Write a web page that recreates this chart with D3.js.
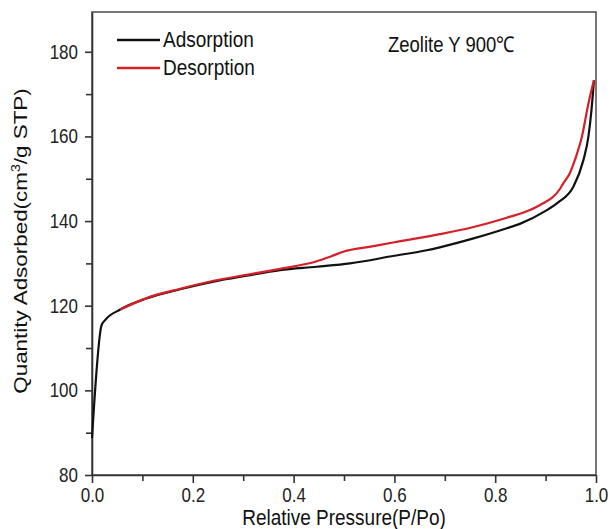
<!DOCTYPE html>
<html>
<head>
<meta charset="utf-8">
<script src="https://cdn.jsdelivr.net/npm/d3@7"></script>
<style>
  body { margin: 0; background: #fff; }
  svg { display: block; font-family: "Liberation Sans", Arial, sans-serif; }
  .axis path, .axis line { stroke: #333; stroke-width: 1.6; }
  .axis text { fill: #222; font-size: 17px; }
</style>
</head>
<body>
<svg id="chart" width="610" height="529"></svg>
<script>
// isotherm, P/Po vs cm3/g STP
const adsP = [0, 0.019, 0.026, 0.056, 0.108, 0.175, 0.241, 0.307, 0.373, 0.446, 0.512, 0.6, 0.664, 0.69, 0.757, 0.823, 0.85, 0.9, 0.925, 0.955, 0.975, 0.985, 0.991, 0.996];
const adsQ = [88.7, 115.4, 116.6, 119.1, 121.7, 123.9, 125.7, 127.1, 128.4, 129.2, 130.0, 131.8, 133.1, 133.8, 135.9, 138.3, 139.4, 142.4, 144.4, 148.1, 154.4, 160.0, 166.2, 173.3];
const desP = [0.056, 0.108, 0.175, 0.241, 0.307, 0.373, 0.446, 0.475, 0.5, 0.55, 0.6, 0.69, 0.757, 0.823, 0.869, 0.889, 0.929, 0.935, 0.948, 0.958, 0.972, 0.985, 0.996];
const desQ = [119.1, 121.8, 124.0, 125.9, 127.3, 128.7, 130.5, 131.7, 132.8, 133.9, 135.0, 136.9, 138.6, 140.8, 142.6, 143.8, 147.7, 148.9, 151.3, 154.4, 159.9, 167.8, 173.3];

const xTicks = [0, 0.2, 0.4, 0.6, 0.8, 1.0];
const xMinor = [0.1, 0.3, 0.5, 0.7, 0.9];
const yTicks = [80, 100, 120, 140, 160, 180];
const yMinor = [90, 110, 130, 150, 170];

const seriesNames = ['Adsorption', 'Desorption'];
const seriesColors = ['#111', '#d42026'];
const title = 'Zeolite Y 900\u2103';

// the source picture is a little stretched upright, so glyphs are taller than wide
const tall = 1.18;

const svg = d3.select('#chart');

const x = d3.scaleLinear().domain([0, 1]).range([92, 596]);
const y = d3.scaleLinear().domain([80, 189.4]).range([475, 12]);

function stretch(sel) {
	sel.attr('transform', function() {
		let tx = +this.getAttribute('x') || 0, ty = +this.getAttribute('y') || 0;
		return `translate(${tx},${ty}) scale(1,${tall}) translate(${-tx},${-ty})`;
	});
}

// frame
svg.append('rect')
	.attr('x', x(0)).attr('y', y.range()[1])
	.attr('width', x(1) - x(0)).attr('height', y.range()[0] - y.range()[1])
	.attr('fill', 'none').attr('stroke', '#555').attr('stroke-width', 1.6);

// minor ticks first, no labels
svg.append('g').attr('class', 'axis')
	.attr('transform', `translate(0,${y(80)})`)
	.call(d3.axisBottom(x).tickValues(xMinor).tickSize(6).tickFormat(''))
	.select('.domain').remove();
svg.append('g').attr('class', 'axis')
	.attr('transform', `translate(${x(0)},0)`)
	.call(d3.axisLeft(y).tickValues(yMinor).tickSize(6).tickFormat(''))
	.select('.domain').remove();

svg.append('g').attr('class', 'axis')
	.attr('transform', `translate(0,${y(80)})`)
	.call(d3.axisBottom(x).tickValues(xTicks).tickSize(8).tickSizeOuter(0).tickPadding(5).tickFormat(d3.format('.1f')))
	.selectAll('text').call(stretch);
svg.append('g').attr('class', 'axis')
	.attr('transform', `translate(${x(0)},0)`)
	.call(d3.axisLeft(y).tickValues(yTicks).tickSize(7).tickSizeOuter(0).tickPadding(7))
	.selectAll('text').call(stretch);

const line = d3.line()
	.x(d => x(d[0]))
	.y(d => y(d[1]))
	.curve(d3.curveMonotoneX);

const ads = adsP.map((p, i) => [p, adsQ[i]]);
const des = desP.map((p, i) => [p, desQ[i]]);

svg.append('path').datum(ads)
	.attr('d', line).attr('fill', 'none')
	.attr('stroke', seriesColors[0]).attr('stroke-width', 2.2);
svg.append('path').datum(des)
	.attr('d', line).attr('fill', 'none')
	.attr('stroke', seriesColors[1]).attr('stroke-width', 2.2);

// legend
const legend = svg.append('g');
seriesNames.forEach((name, i) => {
	let ly = 40 + i * 28;
	legend.append('line')
		.attr('x1', 117).attr('x2', 160).attr('y1', ly).attr('y2', ly)
		.attr('stroke', seriesColors[i]).attr('stroke-width', 2.4);
	legend.append('text')
		.attr('x', 163).attr('y', ly + 7)
		.attr('font-size', 19).attr('fill', '#111')
		.text(name)
		.call(stretch);
});

svg.append('text')
	.attr('x', 388).attr('y', 52)
	.attr('font-size', 18.5).attr('fill', '#111')
	.text(title)
	.call(stretch);

svg.append('text')
	.attr('x', (x(0) + x(1)) / 2).attr('y', 525)
	.attr('text-anchor', 'middle')
	.attr('font-size', 19).attr('fill', '#111')
	.text('Relative Pressure(P/Po)')
	.call(stretch);

let yl = svg.append('text')
	.attr('transform', `translate(27,241) rotate(-90) scale(${tall},1)`)
	.attr('text-anchor', 'middle')
	.attr('font-size', 19).attr('fill', '#111');
yl.append('tspan').text('Quantity Adsorbed(cm');
yl.append('tspan').attr('dy', -7).attr('font-size', 12).text('3');
yl.append('tspan').attr('dy', 7).text('/g STP)');
</script>
</body>
</html>
